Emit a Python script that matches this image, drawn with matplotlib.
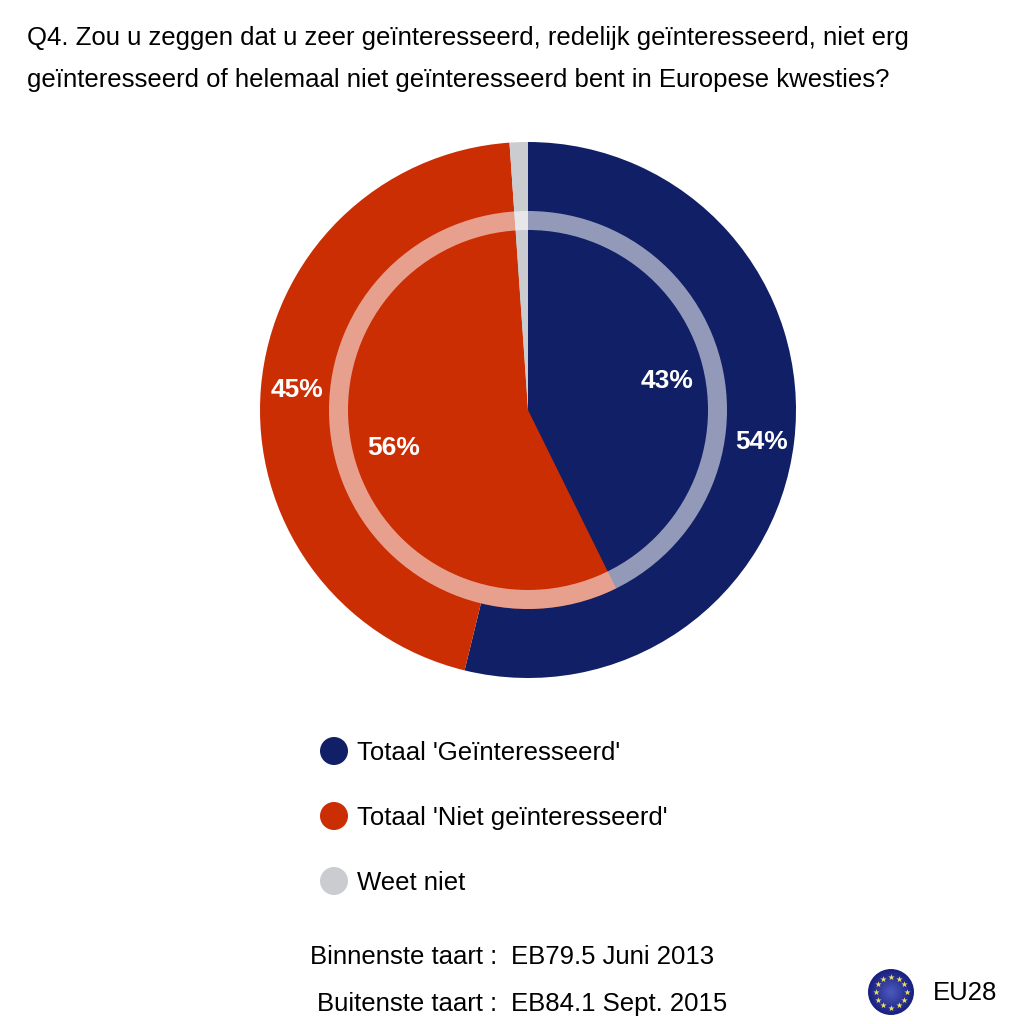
import matplotlib
matplotlib.use('Agg')
import matplotlib.pyplot as plt
import numpy as np
from matplotlib.patches import Circle, Wedge

plt.rcParams['font.family'] = ['Liberation Sans', 'DejaVu Sans']

# Data (pie sizes, labels as printed)
categories = ["Totaal 'Geïnteresseerd'", "Totaal 'Niet geïnteresseerd'", "Weet niet"]
outer_values = [53.8, 45.1, 1.1]
inner_values = [42.7, 56.2, 1.1]
outer_labels = ['54%', '45%']
inner_labels = ['43%', '56%']
colors = ['#101f66', '#cc2e04', '#cbcccf']

title_lines = ["Q4. Zou u zeggen dat u zeer geïnteresseerd, redelijk geïnteresseerd, niet erg",
               "geïnteresseerd of helemaal niet geïnteresseerd bent in Europese kwesties?"]
footer_left = ['Binnenste taart :', 'Buitenste taart :']
footer_right = ['EB79.5 Juni 2013', 'EB84.1 Sept. 2015']


def py(y):
    # y in pixels from the top of the picture
    return 1024 - y


fig = plt.figure(figsize=(10.24, 10.24), dpi=100)
ax = fig.add_axes([0, 0, 1, 1])

cx, cy = 528, py(410)
fs = 18.5

# Outer and inner pies
ax.pie(outer_values, colors=colors, startangle=90, counterclock=False,
       center=(cx, cy), radius=268, frame=True)
ax.pie(inner_values, colors=colors, startangle=90, counterclock=False,
       center=(cx, cy), radius=199, frame=True)
ax.set_xlim(0, 1024)
ax.set_ylim(0, 1024)
ax.set_aspect('equal')
ax.axis('off')

# Translucent ring on the edge of the inner pie
ax.add_patch(Wedge((cx, cy), 199, 0, 360, width=19, facecolor='white', alpha=0.55, edgecolor='none'))

# Percent labels
lab = dict(color='white', fontsize=19, fontweight='bold', ha='center', va='center')
ax.text(762, py(442), outer_labels[0], **lab)
ax.text(297, py(390), outer_labels[1], **lab)
ax.text(667, py(381), inner_labels[0], **lab)
ax.text(394, py(448), inner_labels[1], **lab)

# Title
for line, y in zip(title_lines, [38, 80]):
    ax.text(27, py(y), line, fontsize=fs, color='black', ha='left', va='center')

# Legend
for name, col, y in zip(categories, colors, [751, 816, 881]):
    ax.add_patch(Circle((334, py(y)), 14, facecolor=col, edgecolor='none'))
    ax.text(357, py(y + 2), name, fontsize=fs, color='black', ha='left', va='center')

# Footer
for left, right, y in zip(footer_left, footer_right, [957, 1004]):
    ax.text(497, py(y), left, fontsize=fs, ha='right', va='center')
    ax.text(511, py(y), right, fontsize=fs, ha='left', va='center')
ax.text(933, py(993), 'EU28', fontsize=fs, ha='left', va='center')

# EU flag badge
fx, fy = 891, py(992)
for r, c in zip(np.linspace(23, 3, 12), np.linspace(0, 1, 12)):
    ax.add_patch(Circle((fx, fy), r, edgecolor='none',
                        facecolor=(0.10 + 0.18 * c, 0.13 + 0.20 * c, 0.50 + 0.22 * c)))
ang = np.arange(12) * np.pi / 6
ax.scatter(fx + 15.5 * np.cos(ang), fy + 15.5 * np.sin(ang), marker='*', s=22,
           color='#f0e060', linewidths=0, zorder=5)

fig.savefig('out.png', dpi=100)
